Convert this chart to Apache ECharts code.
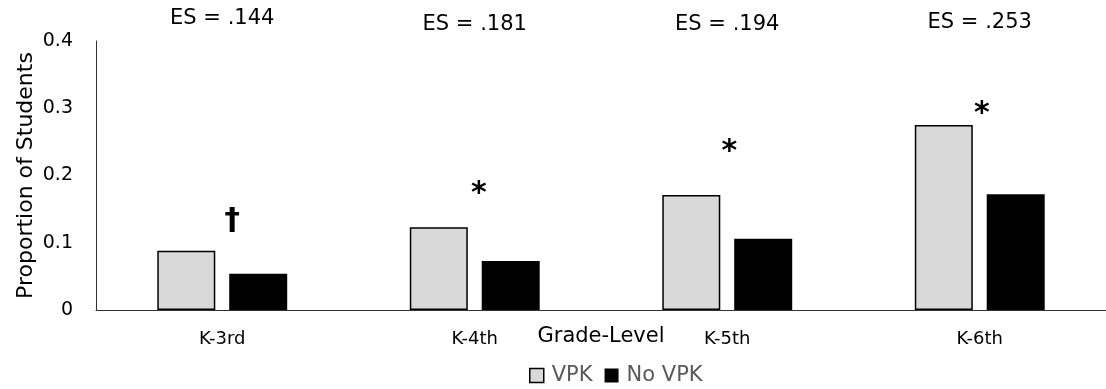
<!DOCTYPE html>
<html>
<head>
<meta charset="utf-8">
<script src="https://cdn.jsdelivr.net/npm/echarts@6/dist/echarts.min.js"></script>
<style>html,body{margin:0;padding:0;background:#fff}#c{width:1106px;height:389px}</style>
</head>
<body>
<div id="c"></div>
<script>
const categories = ['K-3rd', 'K-4th', 'K-5th', 'K-6th'];
const vpk = [0.088, 0.123, 0.171, 0.275];
const noVpk = [0.054, 0.073, 0.106, 0.172];
const esLabels = ['ES = .144', 'ES = .181', 'ES = .194', 'ES = .253'];
const sigMarks = ['†', '*', '*', '*'];
const yMin = 0, yMax = 0.4, yStep = 0.1;

// annotation anchor heights (data units)
const esAt = [0.433, 0.425, 0.425, 0.427];
const sigAt = [0.133, 0.182, 0.245, 0.302];

const FONT = 'DejaVu Sans';
const labelBase = { show: true, position: [0, 0], align: 'center', verticalAlign: 'middle',
  formatter: p => p.name, fontFamily: FONT, color: '#000', opacity: 1,
  textBorderWidth: 0, textShadowBlur: 0 };
const chart = echarts.init(document.getElementById('c'));
chart.setOption({
  animation: false,
  grid: { left: 96, right: -9, top: 41, bottom: 79 },
  legend: {
    left: 524, top: 360, itemWidth: 14, itemHeight: 14, itemGap: 12,
    icon: 'rect',
    textStyle: { fontFamily: FONT, fontSize: 21, color: '#595959', padding: [0, 0, 0, 3] },
    data: [
      { name: 'VPK', itemStyle: { color: '#d9d9d9', borderColor: '#000', borderWidth: 1.5 } },
      { name: 'No VPK', itemStyle: { color: '#000' } }
    ]
  },
  xAxis: {
    type: 'category', data: categories,
    name: 'Grade-Level', nameLocation: 'middle', nameGap: 16, nameMoveOverlap: false,
    nameTextStyle: { fontFamily: FONT, fontSize: 21, color: '#000' },
    axisLine: { show: true, lineStyle: { color: '#333', width: 1 } },
    axisTick: { show: false },
    axisLabel: { fontFamily: FONT, fontSize: 18, color: '#000', margin: 20 }
  },
  yAxis: {
    type: 'value', min: yMin, max: yMax, interval: yStep,
    name: 'Proportion of Students', nameLocation: 'middle', nameGap: 59, nameRotate: 90,
    nameMoveOverlap: false,
    nameTextStyle: { fontFamily: FONT, fontSize: 22, color: '#000' },
    axisLine: { show: true, lineStyle: { color: '#333', width: 1 } },
    axisTick: { show: false },
    splitLine: { show: false },
    axisLabel: { fontFamily: FONT, fontSize: 19, color: '#000', margin: 23 }
  },
  series: [
    {
      name: 'VPK', type: 'bar', data: vpk, barWidth: 58, barGap: '24%',
      itemStyle: { color: '#d9d9d9', borderColor: '#000', borderWidth: 1.5 }
    },
    {
      name: 'No VPK', type: 'bar', data: noVpk, barWidth: 58,
      itemStyle: { color: '#000' }
    },
    {
      name: 'es', type: 'scatter', symbolSize: 0, clip: false, silent: true,
      itemStyle: { color: '#000', opacity: 1 },
      data: categories.map((c, i) => ({ value: [c, esAt[i]], name: esLabels[i] })),
      label: Object.assign({}, labelBase, { fontSize: 21 })
    },
    {
      name: 'sig', type: 'scatter', symbolSize: 0, clip: false, silent: true,
      itemStyle: { color: '#000', opacity: 1 },
      data: categories.map((c, i) => ({
        value: [c, sigAt[i]], name: sigMarks[i],
        label: i === 0 ? { offset: [10, 0], fontSize: 31 } : { offset: [i === 1 ? 4 : 2, 7] }
      })),
      label: Object.assign({}, labelBase, { fontSize: 30, fontWeight: 'bold' })
    }
  ]
});
</script>
</body>
</html>
